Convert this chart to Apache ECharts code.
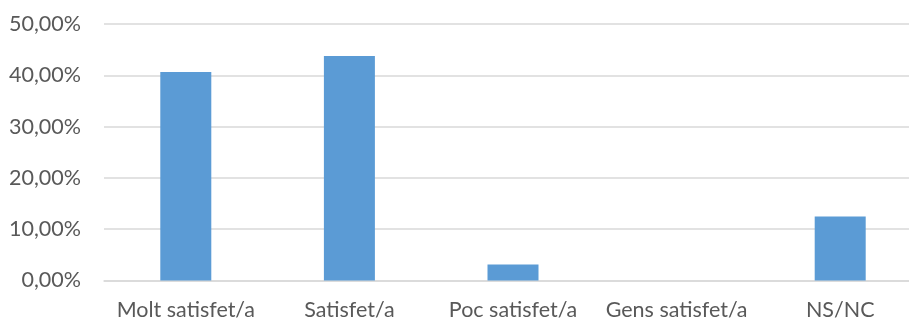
<!DOCTYPE html>
<html>
<head>
<meta charset="utf-8">
<script src="https://cdn.jsdelivr.net/npm/echarts@6/dist/echarts.min.js"></script>
<style>
html,body{margin:0;padding:0;background:#fff;}
#chart{width:909px;height:320px;}
</style>
</head>
<body>
<div id="chart"></div>
<script>
const categories = ['Molt satisfet/a', 'Satisfet/a', 'Poc satisfet/a', 'Gens satisfet/a', 'NS/NC'];
const values = [40.63, 43.75, 3.13, 0, 12.5];
const yMin = 0, yMax = 50, yStep = 10;

const chart = echarts.init(document.getElementById('chart'), null, {renderer: 'canvas'});
chart.setOption({
  animation: false,
  backgroundColor: '#ffffff',
  grid: {left: 104, top: 24, right: -13, bottom: 39.5, containLabel: false, outerBoundsMode: 'none'},
  xAxis: {
    type: 'category',
    data: categories,
    axisLine: {lineStyle: {color: '#D9D9D9', width: 1.5}},
    axisTick: {show: false},
    axisLabel: {color: '#595959', fontFamily: 'Lato', fontSize: 21.5, margin: 19, interval: 0}
  },
  yAxis: {
    type: 'value',
    min: yMin, max: yMax, interval: yStep,
    axisLine: {show: false},
    axisTick: {show: false},
    splitLine: {lineStyle: {color: '#D9D9D9', width: 1.5}},
    axisLabel: {
      color: '#595959', fontFamily: 'Lato', fontSize: 21.5, margin: 23,
      formatter: v => v.toFixed(2).replace('.', ',') + '%'
    }
  },
  series: [{
    type: 'bar',
    data: values,
    barWidth: 51,
    itemStyle: {color: '#5B9BD5'}
  }]
});
</script>
</body>
</html>
